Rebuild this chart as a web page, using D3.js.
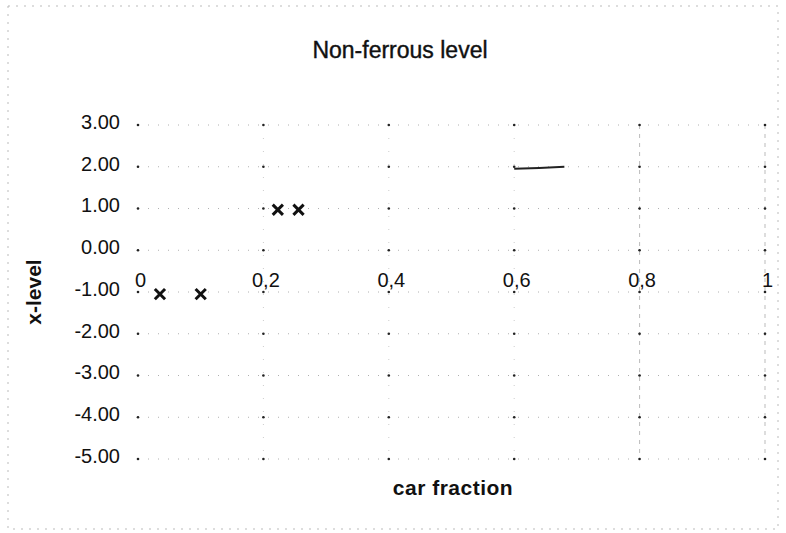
<!doctype html>
<html lang="en">
<head>
    <meta charset="utf-8">
    <title>Non-ferrous level</title>
    <script src="https://d3js.org/d3.v7.min.js"></script>
    <style>
        body { margin: 0; background: #fff; }
        svg { display: block; }
    </style>
</head>
<body>
<script>
    // chart data
    const xTicks = [0, 0.2, 0.4, 0.6, 0.8, 1]
    const xTickLabels = ["0", "0,2", "0,4", "0,6", "0,8", "1"]
    const yTicks = [3, 2, 1, 0, -1, -2, -3, -4, -5]
    const pointX = [0.035, 0.1, 0.223, 0.256]
    const pointY = [-1.05, -1.05, 0.97, 0.97]
    const traceX = [0.6, 0.64, 0.68]
    const traceY = [1.95, 1.97, 2.0]

    const width = 786
    const height = 533
    const margin = { top: 125, right: 21, bottom: 74, left: 138 }
    const font = "'Liberation Sans', Arial, sans-serif"

    const svg = d3.select("body").append("svg")
        .attr("width", width)
        .attr("height", height)
        .attr("font-family", font)

    const x = d3.scaleLinear().domain([0, 1]).range([margin.left, width - margin.right])
    const y = d3.scaleLinear().domain([-5, 3]).range([height - margin.bottom, margin.top])

    // faint frame of the chart area (scanned look)
    svg.append("rect")
        .attr("x", 8).attr("y", 6)
        .attr("width", width - 16).attr("height", height - 10)
        .attr("fill", "none")
        .attr("stroke", "#bbb")
        .attr("stroke-dasharray", "2,6")

    // gridlines, dotted
    const grid = svg.append("g")
    grid.selectAll(".hgrid")
        .data(yTicks)
        .join("line")
        .attr("class", "hgrid")
        .attr("x1", x(0)).attr("x2", x(1))
        .attr("y1", d => y(d)).attr("y2", d => y(d))
        .attr("stroke", "#b0b0b0")
        .attr("stroke-width", 1)
        .attr("stroke-dasharray", "1,9")
    grid.selectAll(".vgrid")
        .data(xTicks.slice(1))
        .join("line")
        .attr("class", "vgrid")
        .attr("y1", y(3)).attr("y2", y(-5))
        .attr("x1", d => x(d)).attr("x2", d => x(d))
        .attr("stroke", d => d >= 0.8 ? "#bbb" : "#ccc")
        .attr("stroke-width", 1)
        .attr("stroke-dasharray", d => d >= 0.8 ? "4,5" : "1,12")

    // dark dots where gridlines cross
    const crossings = xTicks.flatMap(xv => yTicks.map(yv => [xv, yv]))
    grid.selectAll("circle")
        .data(crossings)
        .join("circle")
        .attr("cx", d => x(d[0]))
        .attr("cy", d => y(d[1]))
        .attr("r", 1.3)
        .attr("fill", "#222")

    // y axis labels
    svg.append("g")
        .attr("transform", `translate(${x(0) - 15},-3)`)
        .call(d3.axisLeft(y).tickValues(yTicks).tickSize(0))
        .call(g => g.select(".domain").remove())
        .call(g => g.selectAll("text")
            .attr("font-size", 20)
            .attr("fill", "#111")
            .attr("font-family", font)
            .text(d => d3.format(".2f")(d).replace("−", "-")))

    // x axis labels sit just under the zero line
    svg.append("g")
        .attr("transform", `translate(2,${y(0) + 20})`)
        .call(d3.axisBottom(x).tickValues(xTicks).tickFormat((d, i) => xTickLabels[i]).tickSize(0))
        .call(g => g.select(".domain").remove())
        .call(g => g.selectAll("text")
            .attr("font-size", 20)
            .attr("fill", "#111")
            .attr("font-family", font))

    // short dark trace near y = 2
    svg.append("path")
        .datum(traceX.map((d, i) => [d, traceY[i]]))
        .attr("fill", "none")
        .attr("stroke", "#222")
        .attr("stroke-width", 2)
        .attr("d", d3.line().x(d => x(d[0])).y(d => y(d[1])))

    // x markers
    svg.append("g")
        .selectAll("path")
        .data(pointX.map((d, i) => [d, pointY[i]]))
        .join("path")
        .attr("transform", d => `translate(${x(d[0])},${y(d[1])})`)
        .attr("d", d3.symbol(d3.symbolX, 70))
        .attr("fill", "none")
        .attr("stroke", "#111")
        .attr("stroke-width", 3)

    // titles
    svg.append("text")
        .attr("x", 400).attr("y", 58)
        .attr("text-anchor", "middle")
        .attr("font-size", 23)
        .attr("fill", "#111")
        .attr("stroke", "#111")
        .attr("stroke-width", 0.4)
        .text("Non-ferrous level")

    svg.append("text")
        .attr("transform", `translate(41,${(y(3) + y(-5)) / 2}) rotate(-90)`)
        .attr("text-anchor", "middle")
        .attr("font-size", 21)
        .attr("font-weight", "bold")
        .attr("fill", "#111")
        .text("x-level")

    svg.append("text")
        .attr("x", 453).attr("y", 495)
        .attr("text-anchor", "middle")
        .attr("font-size", 21)
        .attr("font-weight", "bold")
        .attr("letter-spacing", 0.5)
        .attr("fill", "#111")
        .text("car fraction")
</script>
</body>
</html>
